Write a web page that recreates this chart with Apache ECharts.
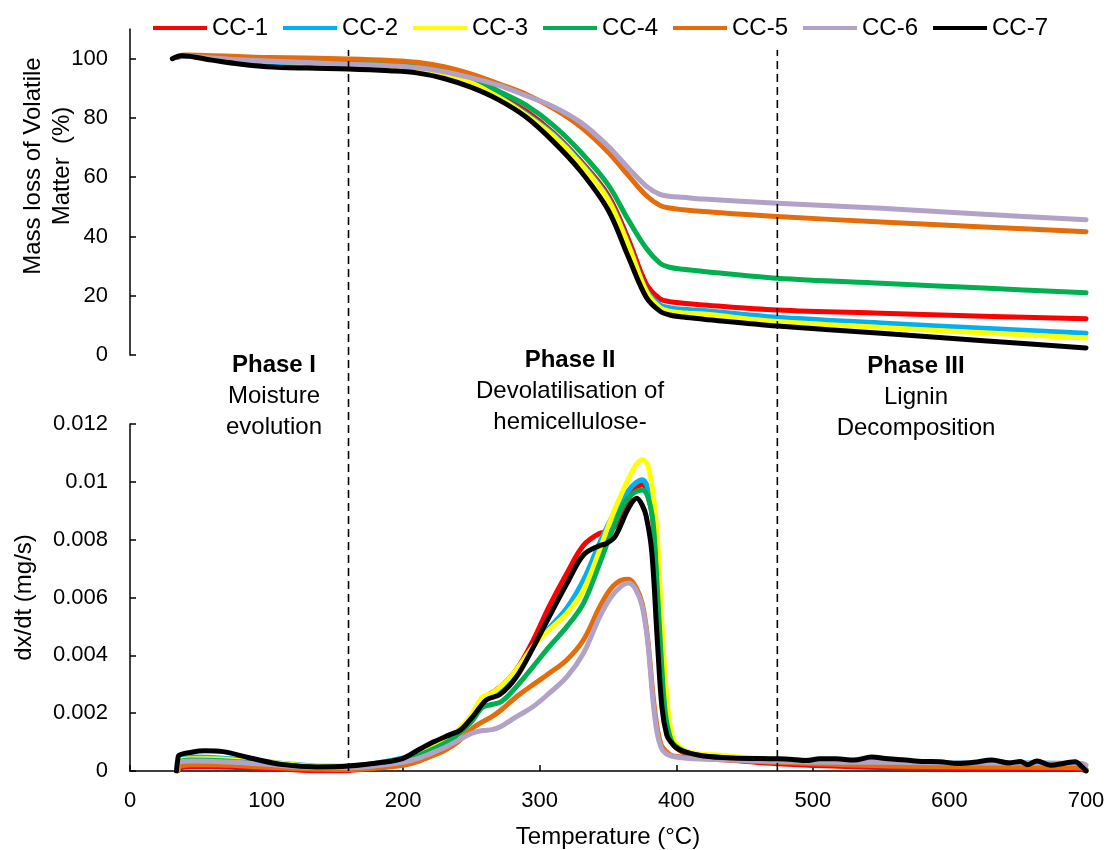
<!DOCTYPE html>
<html>
<head>
<meta charset="utf-8">
<title>TG / DTG</title>
<script src="https://cdn.jsdelivr.net/npm/echarts@6/dist/echarts.min.js"></script>
<style>
  html, body { margin: 0; padding: 0; background: #fff; }
  #chart { width: 1107px; height: 850px; }
</style>
</head>
<body>
<div id="chart"></div>
<script>
// 样品名称 / 颜色
var names = ['CC-1', 'CC-2', 'CC-3', 'CC-4', 'CC-5', 'CC-6', 'CC-7'];
var colors = ['#ff0000', '#00b0f0', '#ffff00', '#00b050', '#e46c0a', '#b3a2c7', '#000000'];

// 上图：失重曲线 (%)
var tgT = [35, 40, 60, 80, 100, 130, 160, 190, 210, 230, 250, 270, 290, 310, 330, 350, 365, 378, 388, 395, 405, 420, 474, 550, 625, 700];
var tgT7 = [31, 38, 60, 80, 100, 130, 160, 190, 210, 230, 250, 270, 290, 310, 330, 350, 365, 378, 388, 395, 405, 420, 474, 550, 625, 700];
var tg1 = [100.5, 101, 100.6, 100.2, 99.9, 99.6, 99.2, 98.3, 97.2, 95.2, 92.3, 87.6, 82.3, 75, 65.5, 54, 39, 24, 19, 18, 17.5, 16.9, 15.2, 14.1, 13.1, 12.2];
var tg2 = [100.5, 101, 100, 99.2, 98.6, 98, 97.4, 96.8, 96, 94.5, 91.8, 87.2, 81.5, 74.5, 65, 53, 37.5, 22, 17, 16, 15.4, 15, 12.7, 10.8, 9, 7.3];
var tg3 = [100.5, 101, 100.5, 99.8, 99.2, 98.7, 98.2, 97.3, 96.2, 94.5, 91.8, 87, 81, 74, 64.5, 52.5, 37, 21.5, 16, 14.8, 14.2, 13.8, 11.3, 9.3, 7.5, 5.7];
var tg4 = [100.5, 101, 100.7, 100.4, 100.2, 99.9, 99.6, 99, 98.2, 96.5, 93.8, 89, 84.3, 77.5, 68.5, 57.5, 45.5, 36, 31, 29.6, 28.9, 28.2, 25.9, 24.2, 22.6, 21];
var tg5 = [100.8, 101.2, 101, 100.7, 100.4, 100.2, 99.9, 99.4, 98.8, 97.3, 94.8, 91.5, 88, 83.2, 77, 68.5, 60.5, 53.8, 50.5, 49.6, 49, 48.4, 46.7, 44.9, 43.2, 41.6];
var tg6 = [100.5, 100.8, 100.2, 99.6, 99.2, 98.7, 98.1, 97.6, 97, 95.6, 93.5, 91, 87.5, 83.8, 78.5, 70.5, 63, 57, 54.2, 53.6, 53.2, 52.6, 51.2, 49.5, 47.5, 45.6];
var tg7 = [100, 101, 99.5, 98.2, 97.3, 96.8, 96.5, 95.9, 95.2, 93.3, 90.3, 86.1, 80.3, 72, 62, 49, 33, 19.5, 14.8, 13.5, 12.8, 12.1, 9.8, 7.3, 4.8, 2.4];

// 下图：失重速率 dx/dt (mg/s)
var dtgT = [35, 36, 45, 60, 80, 100, 120, 140, 160, 180, 200, 210, 220, 230, 240, 250, 258, 265, 272, 283, 295, 307, 320, 332, 344, 352, 360, 365, 370, 375, 379, 383, 386, 389, 392, 396, 400, 410, 430, 474, 550, 625, 690, 697, 700];
var dtg1 = [0, 0.1e-3, 0.15e-3, 0.15e-3, 0.12e-3, 0.08e-3, 0.04e-3, 0.01e-3, 0.02e-3, 0.12e-3, 0.3e-3, 0.45e-3, 0.7e-3, 0.95e-3, 1.3e-3, 1.85e-3, 2.5e-3, 2.7e-3, 2.95e-3, 3.5e-3, 4.5e-3, 5.7e-3, 6.85e-3, 7.8e-3, 8.22e-3, 8.3e-3, 8.9e-3, 9.4e-3, 9.75e-3, 9.9e-3, 9.6e-3, 8.6e-3, 6.3e-3, 3.9e-3, 2.0e-3, 1.1e-3, 0.8e-3, 0.55e-3, 0.42e-3, 0.25e-3, 0.12e-3, 0.08e-3, 0.08e-3, 0.05e-3, 0];
var dtg2 = [0.05e-3, 0.4e-3, 0.48e-3, 0.47e-3, 0.4e-3, 0.32e-3, 0.23e-3, 0.16e-3, 0.17e-3, 0.27e-3, 0.45e-3, 0.6e-3, 0.8e-3, 1.05e-3, 1.35e-3, 1.85e-3, 2.45e-3, 2.65e-3, 2.9e-3, 3.45e-3, 4.3e-3, 4.95e-3, 5.65e-3, 6.6e-3, 7.9e-3, 8.7e-3, 9.35e-3, 9.7e-3, 9.95e-3, 10.07e-3, 9.8e-3, 8.8e-3, 6.5e-3, 4.0e-3, 2.0e-3, 1.1e-3, 0.85e-3, 0.6e-3, 0.5e-3, 0.4e-3, 0.32e-3, 0.28e-3, 0.25e-3, 0.2e-3, 0.05e-3];
var dtg3 = [0.05e-3, 0.35e-3, 0.42e-3, 0.42e-3, 0.36e-3, 0.3e-3, 0.22e-3, 0.15e-3, 0.15e-3, 0.25e-3, 0.42e-3, 0.58e-3, 0.8e-3, 1.05e-3, 1.4e-3, 1.95e-3, 2.55e-3, 2.7e-3, 2.95e-3, 3.5e-3, 4.3e-3, 4.88e-3, 5.46e-3, 6.26e-3, 7.65e-3, 8.7e-3, 9.6e-3, 10.1e-3, 10.55e-3, 10.76e-3, 10.6e-3, 9.6e-3, 8.2e-3, 5.5e-3, 3.2e-3, 1.4e-3, 0.95e-3, 0.65e-3, 0.55e-3, 0.4e-3, 0.3e-3, 0.25e-3, 0.22e-3, 0.2e-3, 0.05e-3];
var dtg4 = [0.05e-3, 0.3e-3, 0.38e-3, 0.37e-3, 0.32e-3, 0.26e-3, 0.19e-3, 0.13e-3, 0.14e-3, 0.22e-3, 0.38e-3, 0.52e-3, 0.72e-3, 0.95e-3, 1.25e-3, 1.7e-3, 2.2e-3, 2.3e-3, 2.4e-3, 2.92e-3, 3.6e-3, 4.3e-3, 5.0e-3, 5.8e-3, 7.19e-3, 8.2e-3, 9.1e-3, 9.45e-3, 9.65e-3, 9.72e-3, 9.5e-3, 8.6e-3, 6.4e-3, 3.9e-3, 2.0e-3, 1.1e-3, 0.85e-3, 0.6e-3, 0.48e-3, 0.35e-3, 0.25e-3, 0.2e-3, 0.18e-3, 0.15e-3, 0.05e-3];
var dtg5 = [0, 0.15e-3, 0.22e-3, 0.22e-3, 0.18e-3, 0.13e-3, 0.09e-3, 0.06e-3, 0.05e-3, 0.1e-3, 0.2e-3, 0.32e-3, 0.5e-3, 0.7e-3, 1.0e-3, 1.45e-3, 1.7e-3, 1.88e-3, 2.12e-3, 2.57e-3, 2.98e-3, 3.38e-3, 3.85e-3, 4.53e-3, 5.68e-3, 6.3e-3, 6.6e-3, 6.63e-3, 6.4e-3, 5.8e-3, 4.6e-3, 2.6e-3, 1.5e-3, 0.9e-3, 0.7e-3, 0.55e-3, 0.5e-3, 0.45e-3, 0.4e-3, 0.3e-3, 0.18e-3, 0.14e-3, 0.12e-3, 0.1e-3, 0.02e-3];
var dtg6 = [0.05e-3, 0.3e-3, 0.35e-3, 0.34e-3, 0.29e-3, 0.23e-3, 0.16e-3, 0.12e-3, 0.12e-3, 0.18e-3, 0.3e-3, 0.42e-3, 0.6e-3, 0.8e-3, 1.05e-3, 1.3e-3, 1.4e-3, 1.43e-3, 1.55e-3, 1.88e-3, 2.22e-3, 2.69e-3, 3.26e-3, 4.07e-3, 5.34e-3, 6.0e-3, 6.4e-3, 6.5e-3, 6.3e-3, 5.7e-3, 4.5e-3, 2.4e-3, 1.3e-3, 0.8e-3, 0.62e-3, 0.52e-3, 0.48e-3, 0.43e-3, 0.4e-3, 0.33e-3, 0.3e-3, 0.28e-3, 0.27e-3, 0.26e-3, 0.2e-3];
var dtgT7 = [34, 35, 36, 45, 55, 68, 88, 112, 137, 160, 185, 200, 210, 222, 234, 242, 251, 261, 271, 283, 295, 307, 320, 332, 344, 348, 355, 363, 367, 371, 375, 378, 382, 386, 389.5, 393, 396, 400, 406, 420, 441, 474, 485, 495, 505, 517, 530, 543, 555, 568, 580, 593, 606, 618, 631, 644, 652, 657, 664, 674, 685, 692, 697, 700];
var dtg7 = [0, 0.4e-3, 0.55e-3, 0.65e-3, 0.7e-3, 0.67e-3, 0.45e-3, 0.22e-3, 0.14e-3, 0.17e-3, 0.3e-3, 0.44e-3, 0.7e-3, 1.0e-3, 1.25e-3, 1.42e-3, 1.88e-3, 2.46e-3, 2.65e-3, 3.26e-3, 4.25e-3, 5.34e-3, 6.49e-3, 7.47e-3, 7.8e-3, 7.85e-3, 8.1e-3, 8.9e-3, 9.25e-3, 9.43e-3, 9.2e-3, 8.8e-3, 7.6e-3, 4.6e-3, 2.2e-3, 1.25e-3, 1.0e-3, 0.8e-3, 0.67e-3, 0.52e-3, 0.45e-3, 0.42e-3, 0.4e-3, 0.36e-3, 0.42e-3, 0.42e-3, 0.38e-3, 0.48e-3, 0.42e-3, 0.38e-3, 0.33e-3, 0.32e-3, 0.26e-3, 0.3e-3, 0.38e-3, 0.28e-3, 0.33e-3, 0.22e-3, 0.35e-3, 0.2e-3, 0.28e-3, 0.32e-3, 0.15e-3, 0];

// 阶段分界温度
var phaseBounds = [160, 474];

var tgData = [tg1, tg2, tg3, tg4, tg5, tg6, tg7];
var dtgData = [dtg1, dtg2, dtg3, dtg4, dtg5, dtg6, dtg7];

function pairs(xs, ys) {
  var out = [];
  xs.forEach(function (x, i) { out.push([x, ys[i]]); });
  return out;
}

var FONT = "'Liberation Sans', Arial, sans-serif";
var series = [];
names.forEach(function (n, i) {
  var common = {
    name: n,
    type: 'line',
    symbol: 'none',
    smooth: 0.35,
    color: colors[i],
    itemStyle: { color: colors[i] },
    lineStyle: { width: 5, color: colors[i], cap: 'round', join: 'round' }
  };
  series.push(Object.assign({}, common, {
    xAxisIndex: 0, yAxisIndex: 0,
    data: pairs(i === 6 ? tgT7 : tgT, tgData[i])
  }));
  series.push(Object.assign({}, common, {
    xAxisIndex: 1, yAxisIndex: 1,
    data: pairs(i === 6 ? dtgT7 : dtgT, dtgData[i])
  }));
});
// 阶段分界虚线
phaseBounds.forEach(function (t) {
  series.push({
    type: 'line', xAxisIndex: 2, yAxisIndex: 2, symbol: 'none', silent: true,
    lineStyle: { color: '#000', width: 1.6, type: [8, 5] },
    data: [[t, 0], [t, 1]]
  });
});

var axisLine = { show: true, onZero: false, lineStyle: { color: '#000', width: 1.5 } };
var axisTick = { show: true, inside: true, length: 6, lineStyle: { color: '#000', width: 1.5 } };

var chart = echarts.init(document.getElementById('chart'));
chart.setOption({
  animation: false,
  textStyle: { fontFamily: FONT },
  legend: {
    data: names,
    icon: 'rect',
    left: 148,
    top: 11,
    itemWidth: 54,
    itemHeight: 4,
    itemGap: 15,
    textStyle: { fontSize: 24, color: '#000', fontFamily: FONT }
  },
  grid: [
    { left: 130, right: 21, top: 29, bottom: 495, outerBoundsMode: 'none' },
    { left: 130, right: 21, top: 424, bottom: 79, outerBoundsMode: 'none' },
    { left: 130, right: 21, top: 50, bottom: 79, outerBoundsMode: 'none' }
  ],
  xAxis: [
    { gridIndex: 0, type: 'value', min: 0, max: 700, show: false },
    {
      gridIndex: 1, type: 'value', min: 0, max: 700, interval: 100,
      name: 'Temperature (°C)', nameLocation: 'middle', nameGap: 54,
      nameTextStyle: { fontSize: 24, color: '#000', fontFamily: FONT },
      axisLine: axisLine, axisTick: axisTick, splitLine: { show: false },
      axisLabel: { fontSize: 22, color: '#000', margin: 19, fontFamily: FONT }
    },
    { gridIndex: 2, type: 'value', min: 0, max: 700, show: false }
  ],
  yAxis: [
    {
      gridIndex: 0, type: 'value', min: 0, max: 110, interval: 20,
      name: 'Mass loss of Volatile\nMatter  (%)', nameLocation: 'middle', nameGap: 53,
      nameMoveOverlap: false,
      nameTextStyle: { fontSize: 24, color: '#000', fontFamily: FONT, lineHeight: 29, padding: [0, 0, 0, 52] },
      axisLine: axisLine,
      axisTick: Object.assign({ customValues: [0, 20, 40, 60, 80, 100] }, axisTick),
      splitLine: { show: false },
      axisLabel: { fontSize: 22, color: '#000', margin: 22, fontFamily: FONT, customValues: [0, 20, 40, 60, 80, 100] }
    },
    {
      gridIndex: 1, type: 'value', min: 0, max: 0.012, interval: 0.002,
      name: 'dx/dt (mg/s)', nameLocation: 'middle', nameGap: 94,
      nameMoveOverlap: false,
      nameTextStyle: { fontSize: 24, color: '#000', fontFamily: FONT },
      axisLine: axisLine, axisTick: axisTick, splitLine: { show: false },
      axisLabel: { fontSize: 22, color: '#000', margin: 22, fontFamily: FONT }
    },
    { gridIndex: 2, type: 'value', min: 0, max: 1, show: false }
  ],
  graphic: [
    { type: 'text', x: 274, y: 350, style: { text: '{b|Phase I}\n{n|Moisture}\n{n|evolution}', textAlign: 'center', textVerticalAlign: 'top',
      rich: { b: { fontSize: 24, fontWeight: 'bold', lineHeight: 31, fontFamily: FONT, fill: '#000', align: 'center' }, n: { fontSize: 24, lineHeight: 31, fontFamily: FONT, fill: '#000', align: 'center' } } } },
    { type: 'text', x: 570, y: 345, style: { text: '{b|Phase II}\n{n|Devolatilisation of}\n{n|hemicellulose-}', textAlign: 'center', textVerticalAlign: 'top',
      rich: { b: { fontSize: 24, fontWeight: 'bold', lineHeight: 31, fontFamily: FONT, fill: '#000', align: 'center' }, n: { fontSize: 24, lineHeight: 31, fontFamily: FONT, fill: '#000', align: 'center' } } } },
    { type: 'text', x: 916, y: 351, style: { text: '{b|Phase III}\n{n|Lignin}\n{n|Decomposition}', textAlign: 'center', textVerticalAlign: 'top',
      rich: { b: { fontSize: 24, fontWeight: 'bold', lineHeight: 31, fontFamily: FONT, fill: '#000', align: 'center' }, n: { fontSize: 24, lineHeight: 31, fontFamily: FONT, fill: '#000', align: 'center' } } } }
  ],
  series: series
});
</script>
</body>
</html>
